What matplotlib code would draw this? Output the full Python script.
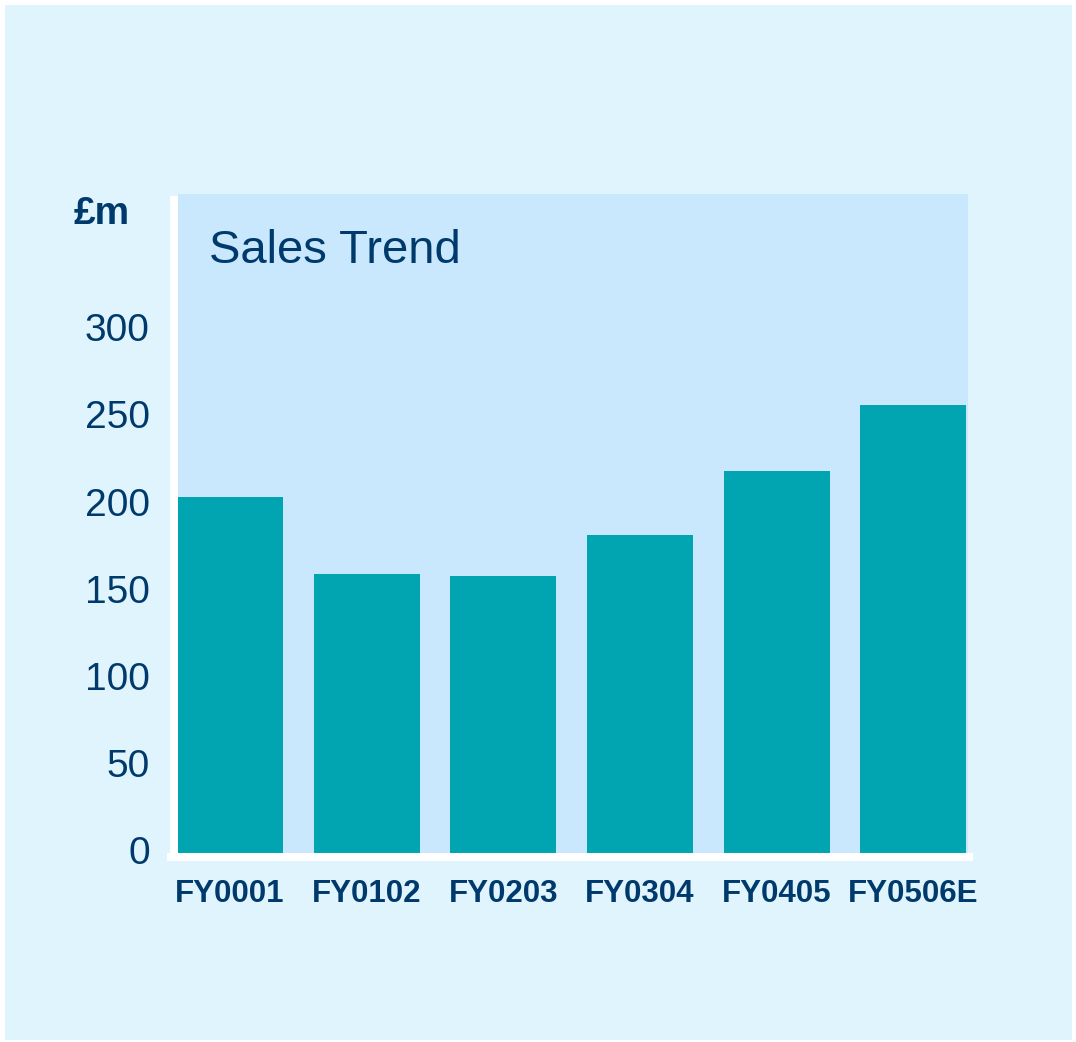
import matplotlib.pyplot as plt
from matplotlib.patches import Rectangle
from matplotlib.lines import Line2D
from matplotlib.transforms import ScaledTranslation

# Sales trend data
years = ['FY0001', 'FY0102', 'FY0203', 'FY0304', 'FY0405', 'FY0506E']
sales = [204, 160, 159, 182, 219, 257]
yticks = [0, 50, 100, 150, 200, 250, 300]

navy = '#003a6c'
teal = '#00a5b1'
plot_bg = '#c9e8fd'
page_bg = '#e0f4fd'

plt.rcParams['font.family'] = ['Liberation Sans', 'DejaVu Sans']

W, H = 1076, 1042
fig = plt.figure(figsize=(W / 100, H / 100), dpi=100, facecolor='white')

# light blue panel inside a thin white border
fig.patches.append(Rectangle((5 / W, 2 / H), 1067 / W, 1035 / H,
                             transform=fig.transFigure, facecolor=page_bg,
                             edgecolor='none', zorder=-10))

# axes placed in pixel units
left, right, top, bottom = 177.5, 967.7, 193.5, 853
ax = fig.add_axes([left / W, (H - bottom) / H, (right - left) / W, (bottom - top) / H])
ax.set_zorder(1)
ax.set_facecolor(plot_bg)

x = range(len(years))
ax.bar(x, sales, width=0.775, color=teal, zorder=2)

ax.set_xlim(-0.384, 5.398)
ax.set_ylim(0, 378)
ax.set_yticks(yticks)
ax.set_yticklabels([str(v) for v in yticks])
ax.set_xticks(list(x))
ax.set_xticklabels(years)

ax.tick_params(axis='y', length=0, pad=20, labelsize=28, labelcolor=navy)
ax.tick_params(axis='x', length=0, pad=19, labelsize=22.5, labelcolor=navy)
for lbl in ax.get_xticklabels():
    lbl.set_fontweight('bold')
# nudge y labels up a little
shift = ScaledTranslation(0, 2.5 / 100, fig.dpi_scale_trans)
for lbl in ax.get_yticklabels():
    lbl.set_transform(lbl.get_transform() + shift)

for s in ax.spines.values():
    s.set_visible(False)

# white axis lines, drawn in figure pixels
fig.lines.append(Line2D([174 / W, 174 / W], [(H - 196) / H, (H - 853) / H],
                        transform=fig.transFigure, color='white', lw=5.5,
                        solid_capstyle='butt', zorder=5))
fig.lines.append(Line2D([167 / W, 973 / W], [(H - 857) / H, (H - 857) / H],
                        transform=fig.transFigure, color='white', lw=5.8,
                        solid_capstyle='butt', zorder=5))

# unit label and title
fig.text(102 / W, (H - 224) / H, '£m', ha='center', va='baseline',
         fontsize=28, fontweight='bold', color=navy)
ax.text(209 / W, (H - 263) / H, 'Sales Trend', transform=fig.transFigure,
        ha='left', va='baseline', fontsize=34, color=navy)

fig.savefig('out.png', dpi=100, facecolor='white')
